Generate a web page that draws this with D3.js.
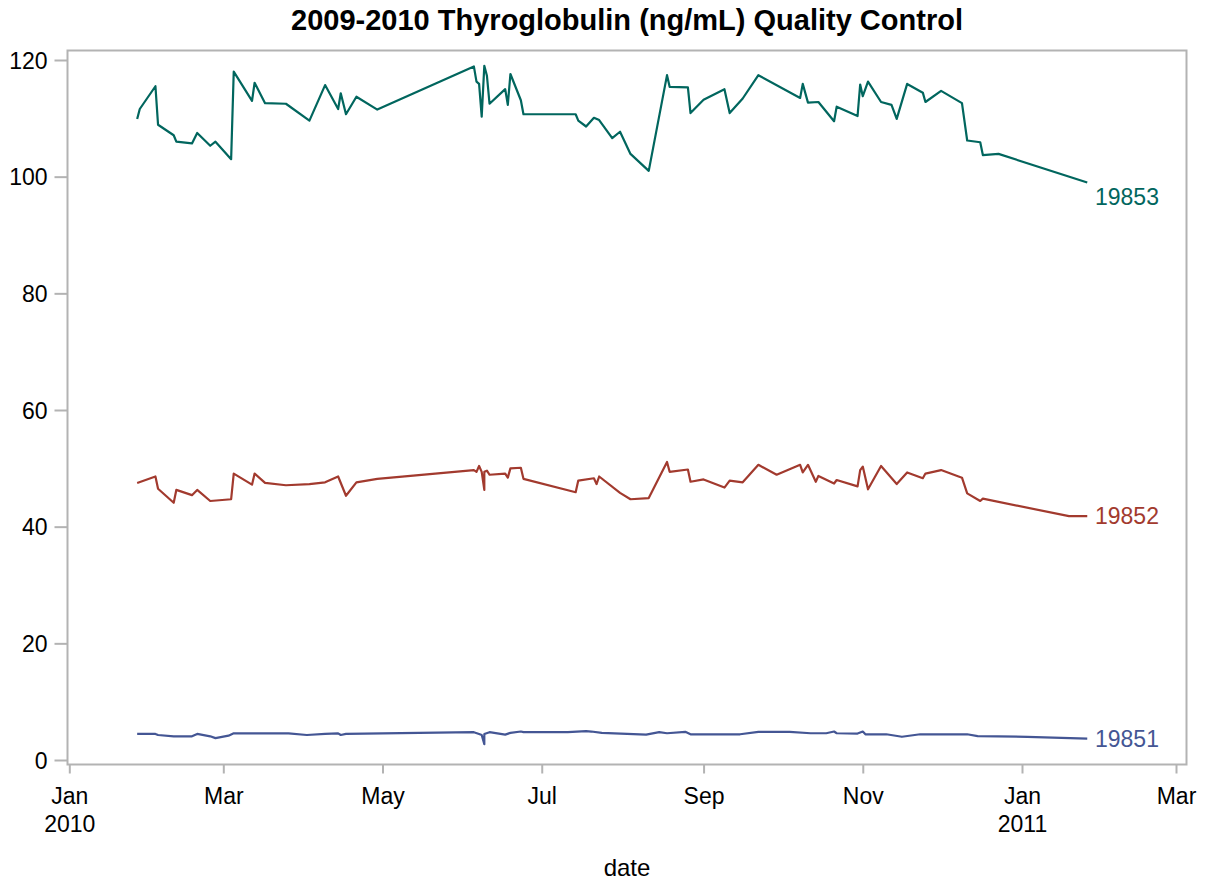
<!DOCTYPE html>
<html>
<head>
<meta charset="utf-8">
<title>2009-2010 Thyroglobulin (ng/mL) Quality Control</title>
<script src="https://cdn.jsdelivr.net/npm/d3@7"></script>
<style>
  html, body { margin: 0; padding: 0; background: #fff; }
  #chart text { font-family: "Liberation Sans", Arial, sans-serif; }
</style>
</head>
<body>
<div id="chart"></div>
<script>
/** qc.js
 *
 *  Thyroglobulin QC control levels over time, one line per lot.
 */

// Lot 19851 (low control)
const dates19851 = [
  "2010-01-27", "2010-02-03", "2010-02-04", "2010-02-10", "2010-02-17", "2010-02-19",
  "2010-02-24", "2010-02-26", "2010-03-03", "2010-03-05", "2010-03-26", "2010-04-02",
  "2010-04-09", "2010-04-14", "2010-04-15", "2010-04-17", "2010-06-05", "2010-06-07",
  "2010-06-08", "2010-06-09", "2010-06-09", "2010-06-11", "2010-06-17", "2010-06-19",
  "2010-06-23", "2010-06-24", "2010-07-11", "2010-07-18", "2010-07-20", "2010-07-24",
  "2010-08-10", "2010-08-15", "2010-08-18", "2010-08-25", "2010-08-27", "2010-09-15",
  "2010-09-22", "2010-10-04", "2010-10-12", "2010-10-18", "2010-10-21", "2010-10-22",
  "2010-10-30", "2010-11-01", "2010-11-02", "2010-11-10", "2010-11-16", "2010-11-23",
  "2010-12-01", "2010-12-11", "2010-12-15", "2011-01-03", "2011-01-26"
];
const values19851 = [
  4.47, 4.47, 4.29, 4.06, 4.06, 4.47,
  4.06, 3.75, 4.17, 4.57, 4.57, 4.29,
  4.47, 4.57, 4.29, 4.47, 4.77, 4.47,
  4.29, 2.7, 4.47, 4.77, 4.35, 4.65,
  4.88, 4.77, 4.77, 4.94, 4.88, 4.65,
  4.35, 4.77, 4.59, 4.83, 4.41, 4.41,
  4.83, 4.83, 4.59, 4.59, 4.88, 4.59,
  4.53, 4.88, 4.41, 4.41, 3.98, 4.41,
  4.41, 4.41, 4.10, 3.98, 3.67
];

// Lot 19852 (mid control)
const dates19852 = [
  "2010-01-27", "2010-02-03", "2010-02-04", "2010-02-10", "2010-02-11", "2010-02-17",
  "2010-02-19", "2010-02-24", "2010-03-04", "2010-03-05", "2010-03-12", "2010-03-13",
  "2010-03-17", "2010-03-25", "2010-04-03", "2010-04-09", "2010-04-14", "2010-04-17",
  "2010-04-21", "2010-04-29", "2010-06-05", "2010-06-06", "2010-06-07", "2010-06-08",
  "2010-06-09", "2010-06-09", "2010-06-10", "2010-06-11", "2010-06-17", "2010-06-18",
  "2010-06-19", "2010-06-23", "2010-06-24", "2010-07-14", "2010-07-15", "2010-07-21",
  "2010-07-22", "2010-07-23", "2010-07-31", "2010-08-04", "2010-08-11", "2010-08-18",
  "2010-08-19", "2010-08-26", "2010-08-27", "2010-09-01", "2010-09-09", "2010-09-11",
  "2010-09-16", "2010-09-22", "2010-09-29", "2010-10-08", "2010-10-09", "2010-10-11",
  "2010-10-14", "2010-10-15", "2010-10-21", "2010-10-22", "2010-10-30", "2010-10-31",
  "2010-11-01", "2010-11-03", "2010-11-08", "2010-11-14", "2010-11-18", "2010-11-24",
  "2010-11-25", "2010-12-01", "2010-12-09", "2010-12-11", "2010-12-16", "2010-12-17",
  "2011-01-19", "2011-01-26"
];
const values19852 = [
  47.5, 48.6, 46.5, 44.1, 46.3, 45.4,
  46.3, 44.4, 44.7, 49.1, 47.2, 49.1,
  47.5, 47.1, 47.3, 47.6, 48.6, 45.3,
  47.6, 48.2, 49.7, 49.4, 50.4, 49.4,
  46.3, 49.4, 49.6, 48.9, 49.1, 48.4,
  50.0, 50.1, 48.2, 45.9, 47.9, 48.3,
  47.3, 48.6, 45.8, 44.7, 44.9, 51.1,
  49.4, 49.8, 47.7, 48.1, 46.7, 47.9,
  47.6, 50.6, 48.9, 50.6, 49.3, 50.6,
  47.7, 48.7, 47.4, 48.0, 46.9, 49.7,
  50.3, 46.4, 50.4, 47.3, 49.3, 48.3,
  49.1, 49.7, 48.4, 45.7, 44.4, 44.8,
  41.8, 41.8
];

// Lot 19853 (high control)
const dates19853 = [
  "2010-01-27", "2010-01-28", "2010-02-03", "2010-02-04", "2010-02-10", "2010-02-11",
  "2010-02-17", "2010-02-19", "2010-02-24", "2010-02-26", "2010-03-04", "2010-03-05",
  "2010-03-12", "2010-03-13", "2010-03-17", "2010-03-25", "2010-04-03", "2010-04-09",
  "2010-04-14", "2010-04-15", "2010-04-17", "2010-04-21", "2010-04-29", "2010-06-05",
  "2010-06-06", "2010-06-07", "2010-06-08", "2010-06-09", "2010-06-10", "2010-06-11",
  "2010-06-17", "2010-06-18", "2010-06-19", "2010-06-23", "2010-06-24", "2010-07-14",
  "2010-07-15", "2010-07-18", "2010-07-21", "2010-07-23", "2010-07-28", "2010-07-31",
  "2010-08-04", "2010-08-11", "2010-08-18", "2010-08-19", "2010-08-26", "2010-08-27",
  "2010-09-01", "2010-09-09", "2010-09-11", "2010-09-16", "2010-09-22", "2010-10-08",
  "2010-10-09", "2010-10-11", "2010-10-15", "2010-10-21", "2010-10-22", "2010-10-30",
  "2010-10-31", "2010-11-01", "2010-11-03", "2010-11-08", "2010-11-12", "2010-11-14",
  "2010-11-18", "2010-11-24", "2010-11-25", "2010-12-01", "2010-12-09", "2010-12-11",
  "2010-12-16", "2010-12-17", "2010-12-23", "2011-01-26"
];
const values19853 = [
  109.9, 111.6, 115.5, 108.9, 107.1, 106.0,
  105.7, 107.5, 105.3, 106.0, 103.0, 118.0,
  113.0, 116.1, 112.6, 112.5, 109.6, 115.7,
  111.6, 114.3, 110.7, 113.7, 111.5, 118.9,
  116.3, 115.9, 110.3, 119.0, 117.3, 112.5,
  115.0, 112.3, 117.6, 113.1, 110.7, 110.7,
  109.6, 108.6, 110.1, 109.7, 106.6, 107.7,
  103.9, 101.0, 117.4, 115.4, 115.3, 110.9,
  113.2, 115.0, 110.9, 113.4, 117.4, 113.5,
  115.9, 112.7, 112.8, 109.5, 112.0, 110.4,
  115.8, 113.8, 116.3, 112.8, 112.3, 109.9,
  115.9, 114.4, 112.8, 114.7, 112.6, 106.2,
  105.9, 103.7, 103.9, 99.0
];

const lots = ["19851", "19852", "19853"];
const lotColors = ["#445694", "#a23a2e", "#01665e"];
const yTicks = [0, 20, 40, 60, 80, 100, 120];
const monthTicks = ["2010-01-01", "2010-03-01", "2010-05-01", "2010-07-01",
  "2010-09-01", "2010-11-01", "2011-01-01", "2011-03-01"];

/**
 * drawChart
 *
 * Draws the QC line chart into `selector`.
 *
 * @param {string} selector - CSS selector of the container element.
 */
const drawChart = function (selector) {
  const width = 1206;
  const height = 882;
  const frame = { left: 67.5, right: 1186.5, top: 50.5, bottom: 764.5 };
  const parse = d3.timeParse("%Y-%m-%d");
  const axisColor = "#b3b3b3";
  const fontSize = 23;

  const series = [
    { name: lots[0], color: lotColors[0], dates: dates19851, values: values19851 },
    { name: lots[1], color: lotColors[1], dates: dates19852, values: values19852 },
    { name: lots[2], color: lotColors[2], dates: dates19853, values: values19853 }
  ].map(s => ({
    name: s.name,
    color: s.color,
    points: s.dates.map((d, i) => ({ date: parse(d), value: s.values[i] }))
  }));

  const x = d3.scaleTime()
    .domain([parse("2010-01-01"), parse("2011-03-01")])
    .range([69.3, 1176]);

  const y = d3.scaleLinear()
    .domain([0, 120])
    .range([760, 60]);

  const svg = d3.select(selector).append("svg")
    .attr("width", width)
    .attr("height", height)
    .attr("viewBox", [0, 0, width, height]);

  svg.append("rect")
    .attr("width", width)
    .attr("height", height)
    .attr("fill", "#fff");

  // Title
  svg.append("text")
    .attr("x", (frame.left + frame.right) / 2)
    .attr("y", 30)
    .attr("text-anchor", "middle")
    .attr("font-size", 29)
    .attr("font-weight", "bold")
    .attr("fill", "#000")
    .text("2009-2010 Thyroglobulin (ng/mL) Quality Control");

  // Lines first, frame on top
  const line = d3.line()
    .x(d => x(d.date))
    .y(d => y(d.value));

  const g = svg.append("g");

  g.selectAll("path")
    .data(series)
    .join("path")
    .attr("fill", "none")
    .attr("stroke", d => d.color)
    .attr("stroke-width", 2.2)
    .attr("stroke-linejoin", "round")
    .attr("d", d => line(d.points));

  // End labels; the top one sits a bit below its end point (as SAS places it)
  g.selectAll("text")
    .data(series)
    .join("text")
    .attr("x", 1095)
    .attr("y", (d, i) => y(d.points[d.points.length - 1].value) + (i === 2 ? 14 : 0))
    .attr("dy", "0.35em")
    .attr("font-size", fontSize)
    .attr("fill", d => d.color)
    .text(d => d.name);

  svg.append("rect")
    .attr("x", frame.left)
    .attr("y", frame.top)
    .attr("width", frame.right - frame.left)
    .attr("height", frame.bottom - frame.top)
    .attr("fill", "none")
    .attr("stroke", axisColor)
    .attr("stroke-width", 2);

  // Y axis
  const yAxis = svg.append("g")
    .attr("transform", `translate(${frame.left},0)`)
    .call(d3.axisLeft(y).tickValues(yTicks).tickSize(13).tickPadding(7));

  // X axis
  const monthFormat = d3.timeFormat("%b");
  const xAxis = svg.append("g")
    .attr("transform", `translate(0,${frame.bottom})`)
    .call(d3.axisBottom(x).tickValues(monthTicks.map(parse)).tickSize(9).tickPadding(14)
      .tickFormat(monthFormat));

  [yAxis, xAxis].forEach(a => {
    a.select(".domain").remove();
    a.selectAll(".tick line").attr("stroke", axisColor).attr("stroke-width", 2);
    a.selectAll(".tick text")
      .attr("font-size", fontSize)
      .attr("fill", "#000");
  });

  yAxis.selectAll(".tick text").attr("dy", "0.35em");

  // Year under January ticks
  xAxis.selectAll(".tick")
    .filter(d => d.getMonth() === 0)
    .append("text")
    .attr("y", 23)
    .attr("dy", "1.95em")
    .attr("text-anchor", "middle")
    .attr("font-size", fontSize)
    .attr("fill", "#000")
    .text(d => d.getFullYear());

  // X axis label
  svg.append("text")
    .attr("x", (frame.left + frame.right) / 2)
    .attr("y", 876)
    .attr("text-anchor", "middle")
    .attr("font-size", 24)
    .attr("fill", "#000")
    .text("date");
};

(function () {
  drawChart("#chart");
})();
</script>
</body>
</html>
